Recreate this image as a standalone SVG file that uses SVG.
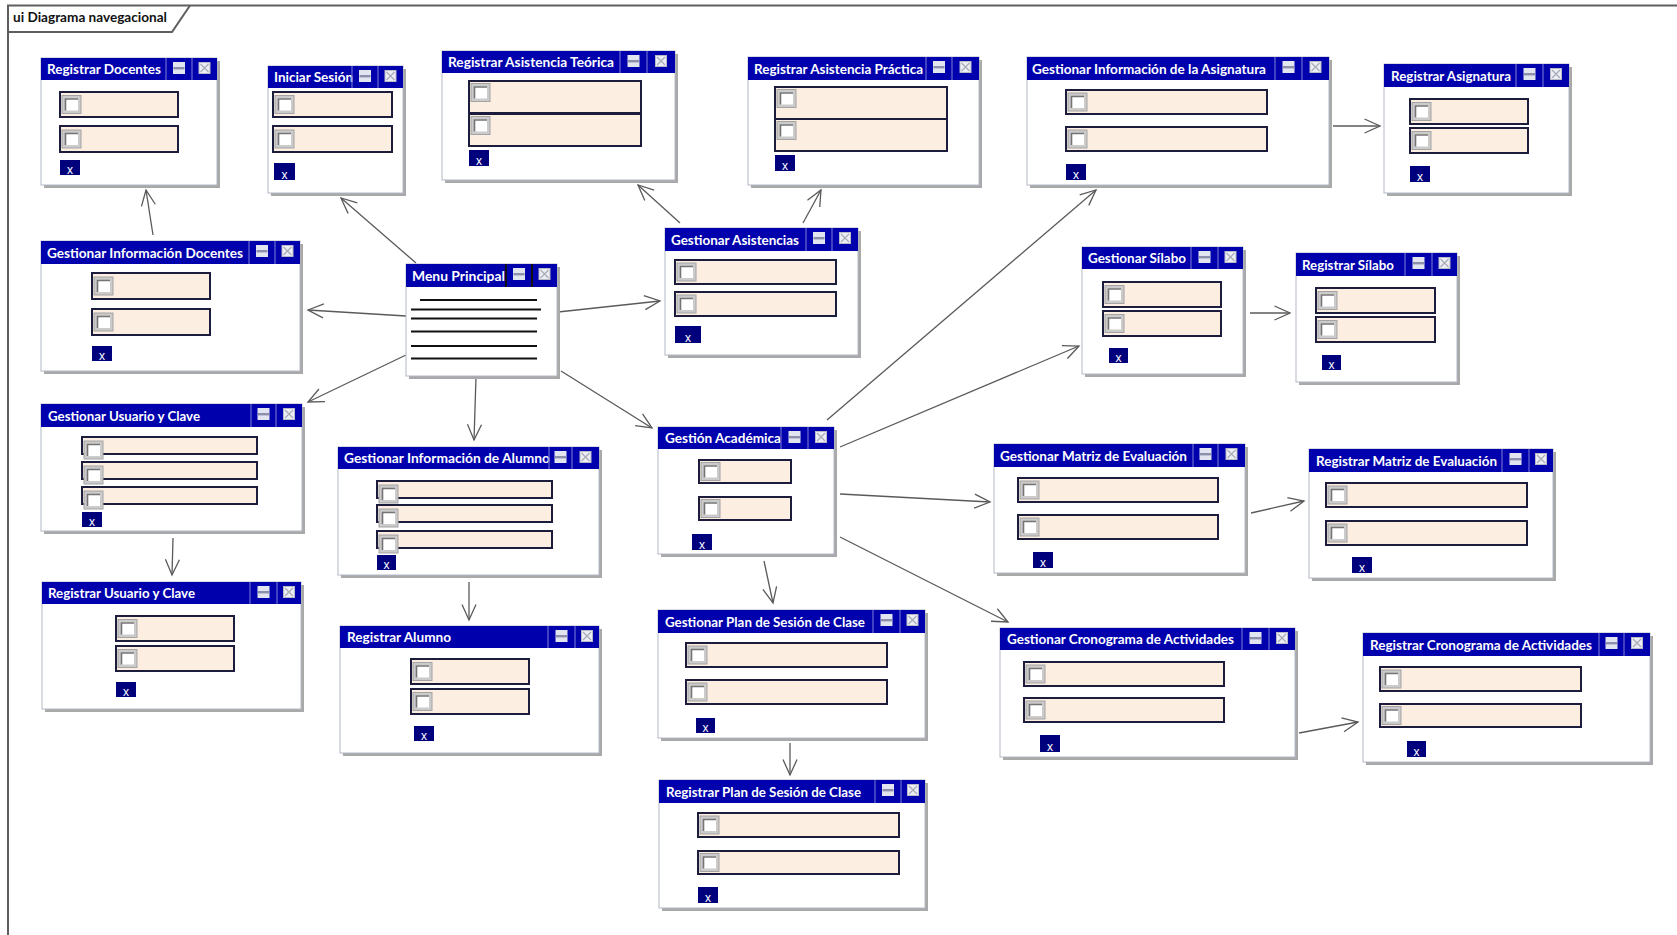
<svg xmlns="http://www.w3.org/2000/svg" xmlns:xlink="http://www.w3.org/1999/xlink" width="1677" height="935" viewBox="0 0 1677 935">
  <style>
    .shadow { fill: #a9a9a9; }
    .body { fill: #ffffff; stroke: #b4b8c8; stroke-width: 1; }
    .bar { fill: #0000ad; }
    .sep { stroke: #6b6bd0; stroke-width: 1.2; }
    .ttl { font-family: Lato, "Liberation Sans", sans-serif; font-size: 13px; font-weight: bold; fill: #ffffff; }
    .fld { fill: #fcefe2; stroke: #1c1c3c; stroke-width: 2; }
    .xb { fill: #00007c; }
    .xt { font-family: "Liberation Sans", sans-serif; font-size: 12px; fill: #ffffff; text-anchor: middle; }
    .menu line { stroke: #111111; stroke-width: 2; }
    .conn line { stroke: #5a5a5a; stroke-width: 1.3; fill: none; marker-end: url(#open); }
    .frame { stroke: #5e5e5e; stroke-width: 2; fill: none; }
    .ftxt { font-family: Lato, "Liberation Sans", sans-serif; font-size: 13px; font-weight: bold; fill: #111111; }
  </style>
  <defs>
    <marker id="open" viewBox="0 -8 17 16" refX="15.5" refY="0" markerWidth="17" markerHeight="16" markerUnits="userSpaceOnUse" orient="auto" overflow="visible">
      <path d="M0,-7 L15.5,0 L0,7" fill="none" stroke="#5a5a5a" stroke-width="1.3"/>
    </marker>
    <!-- checkbox with bevelled frame -->
    <g id="cb">
      <rect x="0" y="0" width="19" height="18" fill="#cbcbcb" stroke="#a4a4a4" stroke-width="1"/>
      <rect x="3" y="3" width="13" height="12" fill="#ffffff"/>
      <path d="M3.5,15 V3.5 H16" fill="none" stroke="#747474" stroke-width="1.6"/>
    </g>
    <!-- title bar buttons -->
    <g id="mini">
      <rect x="0" y="0" width="12" height="12" fill="#e2e4f0"/>
      <rect x="0.5" y="5" width="11" height="2.4" fill="#8c90aa"/>
    </g>
    <g id="closei">
      <rect x="0.5" y="0.5" width="11" height="11" fill="#eceef4" stroke="#b8bac8" stroke-width="1"/>
      <path d="M2,2 L10,10 M10,2 L2,10" stroke="#a8aab8" stroke-width="1.2"/>
    </g>
  </defs>

  <rect x="0" y="0" width="1677" height="935" fill="#ffffff"/>

  <!-- diagram frame -->
  <g id="frame">
    <path class="frame" d="M8,935 V5.5 H1677"/>
    <path class="frame" d="M8,32 H172 L190,5.5"/>
    <text class="ftxt" x="13" y="22" textLength="154" lengthAdjust="spacingAndGlyphs">ui Diagrama navegacional</text>
  </g>

  <!-- connectors -->
  <g id="connectors" class="conn">
    <line x1="153" y1="235" x2="146" y2="190"/>
    <line x1="416" y1="263" x2="341" y2="198"/>
    <line x1="406" y1="316" x2="308" y2="310"/>
    <line x1="406" y1="355" x2="308" y2="402"/>
    <line x1="476" y1="377" x2="474" y2="440"/>
    <line x1="558" y1="312" x2="660" y2="301"/>
    <line x1="561" y1="371" x2="652" y2="428"/>
    <line x1="680" y1="223" x2="638" y2="185"/>
    <line x1="803" y1="223" x2="821" y2="190"/>
    <line x1="173" y1="538" x2="172" y2="575"/>
    <line x1="469" y1="582" x2="469" y2="620"/>
    <line x1="827" y1="420" x2="1096" y2="190"/>
    <line x1="840" y1="447" x2="1079" y2="346"/>
    <line x1="840" y1="494" x2="990" y2="502"/>
    <line x1="840" y1="537" x2="1008" y2="622"/>
    <line x1="764" y1="561" x2="773" y2="603"/>
    <line x1="790" y1="743" x2="790" y2="775"/>
    <line x1="1333" y1="126" x2="1380" y2="126"/>
    <line x1="1250" y1="313" x2="1290" y2="313"/>
    <line x1="1251" y1="513" x2="1304" y2="501"/>
    <line x1="1299" y1="733" x2="1358" y2="722"/>
  </g>

  <!-- Registrar Docentes -->
  <g id="registrar-docentes">
    <rect class="shadow" x="44" y="61" width="176" height="127"/>
    <rect class="body" x="41" y="58" width="176" height="127"/>
    <rect class="bar" x="41" y="58" width="176" height="22"/>
    <text class="ttl" x="47" y="74" textLength="114" lengthAdjust="spacingAndGlyphs">Registrar Docentes</text>
    <line class="sep" x1="166" y1="58" x2="166" y2="80"/>
    <line class="sep" x1="192" y1="58" x2="192" y2="80"/>
    <use href="#mini" x="173" y="62"/>
    <use href="#closei" x="198.5" y="62"/>
    <rect class="fld" x="60" y="92" width="118" height="25"/>
    <use href="#cb" x="62" y="95.5"/>
    <rect class="fld" x="60" y="126" width="118" height="26"/>
    <use href="#cb" x="62" y="130"/>
    <rect class="xb" x="60" y="160" width="20" height="15"/>
    <text class="xt" x="70" y="174">x</text>
  </g>

  <!-- Iniciar Sesión -->
  <g id="iniciar-sesion">
    <rect class="shadow" x="271" y="69" width="135" height="127"/>
    <rect class="body" x="268" y="66" width="135" height="127"/>
    <rect class="bar" x="268" y="66" width="135" height="22"/>
    <text class="ttl" x="274" y="82" textLength="79" lengthAdjust="spacingAndGlyphs">Iniciar Sesión</text>
    <line class="sep" x1="352" y1="66" x2="352" y2="88"/>
    <line class="sep" x1="378" y1="66" x2="378" y2="88"/>
    <use href="#mini" x="359" y="70"/>
    <use href="#closei" x="384.5" y="70"/>
    <rect class="fld" x="273" y="92" width="119" height="25"/>
    <use href="#cb" x="275" y="95.5"/>
    <rect class="fld" x="273" y="126" width="119" height="26"/>
    <use href="#cb" x="275" y="130"/>
    <rect class="xb" x="274" y="163" width="21" height="17"/>
    <text class="xt" x="284.5" y="179">x</text>
  </g>

  <!-- Gestionar Información Docentes -->
  <g id="gestionar-informacion-docentes">
    <rect class="shadow" x="44" y="244" width="259" height="130"/>
    <rect class="body" x="41" y="241" width="259" height="130"/>
    <rect class="bar" x="41" y="241" width="259" height="23"/>
    <text class="ttl" x="47" y="257.5" textLength="196" lengthAdjust="spacingAndGlyphs">Gestionar Información Docentes</text>
    <line class="sep" x1="249" y1="241" x2="249" y2="264"/>
    <line class="sep" x1="275" y1="241" x2="275" y2="264"/>
    <use href="#mini" x="256" y="245"/>
    <use href="#closei" x="281.5" y="245"/>
    <rect class="fld" x="92" y="273" width="118" height="26"/>
    <use href="#cb" x="94" y="277"/>
    <rect class="fld" x="92" y="309" width="118" height="26"/>
    <use href="#cb" x="94" y="313"/>
    <rect class="xb" x="92" y="346" width="20" height="15"/>
    <text class="xt" x="102" y="360">x</text>
  </g>

  <!-- Menu Principal -->
  <g id="menu-principal" class="menu">
    <rect class="shadow" x="409" y="267" width="151" height="112"/>
    <rect class="body" x="406" y="264" width="151" height="112"/>
    <rect class="bar" x="406" y="264" width="151" height="23"/>
    <text class="ttl" x="412" y="280.5" textLength="93" lengthAdjust="spacingAndGlyphs">Menu Principal</text>
    <line class="sep" x1="506" y1="264" x2="506" y2="287"/>
    <line class="sep" x1="532" y1="264" x2="532" y2="287"/>
    <use href="#mini" x="513" y="268"/>
    <use href="#closei" x="538.5" y="268"/>
    <line x1="420" y1="300" x2="537" y2="300"/>
    <line x1="411" y1="309.5" x2="541" y2="309.5"/>
    <line x1="411" y1="318.5" x2="537" y2="318.5"/>
    <line x1="411" y1="331.5" x2="537" y2="331.5"/>
    <line x1="411" y1="346" x2="537" y2="346"/>
    <line x1="411" y1="358.5" x2="537" y2="358.5"/>
  </g>

  <!-- Gestionar Usuario y Clave -->
  <g id="gestionar-usuario-clave">
    <rect class="shadow" x="44" y="407" width="261" height="127"/>
    <rect class="body" x="41" y="404" width="261" height="127"/>
    <rect class="bar" x="41" y="404" width="261" height="23"/>
    <text class="ttl" x="48" y="420.5" textLength="152" lengthAdjust="spacingAndGlyphs">Gestionar Usuario y Clave</text>
    <line class="sep" x1="251" y1="404" x2="251" y2="427"/>
    <line class="sep" x1="276" y1="404" x2="276" y2="427"/>
    <use href="#mini" x="257.5" y="408"/>
    <use href="#closei" x="283" y="408"/>
    <rect class="fld" x="82" y="437" width="175" height="17"/>
    <use href="#cb" x="84" y="441"/>
    <rect class="fld" x="82" y="462" width="175" height="17"/>
    <use href="#cb" x="84" y="466"/>
    <rect class="fld" x="82" y="487" width="175" height="17"/>
    <use href="#cb" x="84" y="491"/>
    <rect class="xb" x="82" y="512" width="20" height="15"/>
    <text class="xt" x="92" y="526">x</text>
  </g>

  <!-- Gestionar Información de Alumno -->
  <g id="gestionar-informacion-alumno">
    <rect class="shadow" x="341" y="450" width="261" height="128"/>
    <rect class="body" x="338" y="447" width="261" height="128"/>
    <rect class="bar" x="338" y="447" width="261" height="22"/>
    <text class="ttl" x="344" y="463" textLength="206" lengthAdjust="spacingAndGlyphs">Gestionar Información de Alumno</text>
    <line class="sep" x1="549" y1="447" x2="549" y2="469"/>
    <line class="sep" x1="572" y1="447" x2="572" y2="469"/>
    <use href="#mini" x="554.5" y="451"/>
    <use href="#closei" x="579.5" y="451"/>
    <rect class="fld" x="377" y="481" width="175" height="17"/>
    <use href="#cb" x="379" y="485"/>
    <rect class="fld" x="377" y="505" width="175" height="17"/>
    <use href="#cb" x="379" y="509"/>
    <rect class="fld" x="377" y="531" width="175" height="17"/>
    <use href="#cb" x="379" y="535"/>
    <rect class="xb" x="377" y="555" width="19" height="15"/>
    <text class="xt" x="386.5" y="569">x</text>
  </g>

  <!-- Registrar Usuario y Clave -->
  <g id="registrar-usuario-clave">
    <rect class="shadow" x="45" y="585" width="259" height="127"/>
    <rect class="body" x="42" y="582" width="259" height="127"/>
    <rect class="bar" x="42" y="582" width="259" height="22"/>
    <text class="ttl" x="48" y="598" textLength="147" lengthAdjust="spacingAndGlyphs">Registrar Usuario y Clave</text>
    <line class="sep" x1="250" y1="582" x2="250" y2="604"/>
    <line class="sep" x1="277" y1="582" x2="277" y2="604"/>
    <use href="#mini" x="257.5" y="586"/>
    <use href="#closei" x="283" y="586"/>
    <rect class="fld" x="116" y="616" width="118" height="25"/>
    <use href="#cb" x="118" y="619.5"/>
    <rect class="fld" x="116" y="646" width="118" height="25"/>
    <use href="#cb" x="118" y="649.5"/>
    <rect class="xb" x="116" y="682" width="20" height="15"/>
    <text class="xt" x="126" y="696">x</text>
  </g>

  <!-- Registrar Alumno -->
  <g id="registrar-alumno">
    <rect class="shadow" x="343" y="629" width="259" height="127"/>
    <rect class="body" x="340" y="626" width="259" height="127"/>
    <rect class="bar" x="340" y="626" width="259" height="22"/>
    <text class="ttl" x="347" y="642" textLength="104" lengthAdjust="spacingAndGlyphs">Registrar Alumno</text>
    <line class="sep" x1="548" y1="626" x2="548" y2="648"/>
    <line class="sep" x1="575" y1="626" x2="575" y2="648"/>
    <use href="#mini" x="555.5" y="630"/>
    <use href="#closei" x="581" y="630"/>
    <rect class="fld" x="411" y="659" width="118" height="25"/>
    <use href="#cb" x="413" y="662.5"/>
    <rect class="fld" x="411" y="689" width="118" height="25"/>
    <use href="#cb" x="413" y="692.5"/>
    <rect class="xb" x="414" y="726" width="20" height="15"/>
    <text class="xt" x="424" y="740">x</text>
  </g>

  <!-- Registrar Asistencia Teórica -->
  <g id="registrar-asistencia-teorica">
    <rect class="shadow" x="445" y="54" width="233" height="129"/>
    <rect class="body" x="442" y="51" width="233" height="129"/>
    <rect class="bar" x="442" y="51" width="233" height="22"/>
    <text class="ttl" x="448" y="67" textLength="166" lengthAdjust="spacingAndGlyphs">Registrar Asistencia Teórica</text>
    <line class="sep" x1="620" y1="51" x2="620" y2="73"/>
    <line class="sep" x1="647" y1="51" x2="647" y2="73"/>
    <use href="#mini" x="627.5" y="55"/>
    <use href="#closei" x="655" y="55"/>
    <rect class="fld" x="469" y="81" width="172" height="32"/>
    <use href="#cb" x="471" y="83.5"/>
    <rect class="fld" x="469" y="114" width="172" height="32"/>
    <use href="#cb" x="471" y="116.5"/>
    <rect class="xb" x="469" y="150" width="20" height="16"/>
    <text class="xt" x="479" y="165">x</text>
  </g>

  <!-- Registrar Asistencia Práctica -->
  <g id="registrar-asistencia-practica">
    <rect class="shadow" x="751" y="60" width="231" height="128"/>
    <rect class="body" x="748" y="57" width="231" height="128"/>
    <rect class="bar" x="748" y="57" width="231" height="23"/>
    <text class="ttl" x="754" y="73.5" textLength="169" lengthAdjust="spacingAndGlyphs">Registrar Asistencia Práctica</text>
    <line class="sep" x1="926" y1="57" x2="926" y2="80"/>
    <line class="sep" x1="952" y1="57" x2="952" y2="80"/>
    <use href="#mini" x="933" y="61"/>
    <use href="#closei" x="959.5" y="61"/>
    <rect class="fld" x="775" y="87" width="172" height="32"/>
    <use href="#cb" x="777" y="89.5"/>
    <rect class="fld" x="775" y="119" width="172" height="32"/>
    <use href="#cb" x="777" y="121.5"/>
    <rect class="xb" x="775" y="155" width="20" height="16"/>
    <text class="xt" x="785" y="170">x</text>
  </g>

  <!-- Gestionar Asistencias -->
  <g id="gestionar-asistencias">
    <rect class="shadow" x="668" y="231" width="193" height="127"/>
    <rect class="body" x="665" y="228" width="193" height="127"/>
    <rect class="bar" x="665" y="228" width="193" height="23"/>
    <text class="ttl" x="671" y="244.5" textLength="128" lengthAdjust="spacingAndGlyphs">Gestionar Asistencias</text>
    <line class="sep" x1="806" y1="228" x2="806" y2="251"/>
    <line class="sep" x1="832" y1="228" x2="832" y2="251"/>
    <use href="#mini" x="813" y="232"/>
    <use href="#closei" x="839" y="232"/>
    <rect class="fld" x="675" y="260" width="161" height="24"/>
    <use href="#cb" x="677" y="263"/>
    <rect class="fld" x="675" y="292" width="161" height="24"/>
    <use href="#cb" x="677" y="295"/>
    <rect class="xb" x="675" y="326" width="26" height="17"/>
    <text class="xt" x="688" y="342">x</text>
  </g>

  <!-- Gestión Académica -->
  <g id="gestion-academica">
    <rect class="shadow" x="661" y="430" width="176" height="127"/>
    <rect class="body" x="658" y="427" width="176" height="127"/>
    <rect class="bar" x="658" y="427" width="176" height="22"/>
    <text class="ttl" x="665" y="443" textLength="116" lengthAdjust="spacingAndGlyphs">Gestión Académica</text>
    <line class="sep" x1="781" y1="427" x2="781" y2="449"/>
    <line class="sep" x1="808" y1="427" x2="808" y2="449"/>
    <use href="#mini" x="788.5" y="431"/>
    <use href="#closei" x="815" y="431"/>
    <rect class="fld" x="699" y="460" width="92" height="23"/>
    <use href="#cb" x="701" y="462.5"/>
    <rect class="fld" x="699" y="497" width="92" height="23"/>
    <use href="#cb" x="701" y="499.5"/>
    <rect class="xb" x="692" y="534" width="20" height="16"/>
    <text class="xt" x="702" y="549">x</text>
  </g>

  <!-- Gestionar Matriz de Evaluación -->
  <g id="gestionar-matriz-evaluacion">
    <rect class="shadow" x="997" y="447" width="251" height="129"/>
    <rect class="body" x="994" y="444" width="251" height="129"/>
    <rect class="bar" x="994" y="444" width="251" height="23"/>
    <text class="ttl" x="1000" y="460.5" textLength="187" lengthAdjust="spacingAndGlyphs">Gestionar Matriz de Evaluación</text>
    <line class="sep" x1="1193" y1="444" x2="1193" y2="467"/>
    <line class="sep" x1="1218" y1="444" x2="1218" y2="467"/>
    <use href="#mini" x="1199.5" y="448"/>
    <use href="#closei" x="1225.5" y="448"/>
    <rect class="fld" x="1018" y="478" width="200" height="24"/>
    <use href="#cb" x="1020" y="481"/>
    <rect class="fld" x="1018" y="515" width="200" height="24"/>
    <use href="#cb" x="1020" y="518"/>
    <rect class="xb" x="1033" y="552" width="20" height="16"/>
    <text class="xt" x="1043" y="567">x</text>
  </g>

  <!-- Gestionar Plan de Sesión de Clase -->
  <g id="gestionar-plan-sesion">
    <rect class="shadow" x="661" y="613" width="267" height="128"/>
    <rect class="body" x="658" y="610" width="267" height="128"/>
    <rect class="bar" x="658" y="610" width="267" height="23"/>
    <text class="ttl" x="665" y="626.5" textLength="200" lengthAdjust="spacingAndGlyphs">Gestionar Plan de Sesión de Clase</text>
    <line class="sep" x1="873" y1="610" x2="873" y2="633"/>
    <line class="sep" x1="900" y1="610" x2="900" y2="633"/>
    <use href="#mini" x="880.5" y="614"/>
    <use href="#closei" x="906.5" y="614"/>
    <rect class="fld" x="686" y="643" width="201" height="24"/>
    <use href="#cb" x="688" y="646"/>
    <rect class="fld" x="686" y="680" width="201" height="24"/>
    <use href="#cb" x="688" y="683"/>
    <rect class="xb" x="696" y="718" width="19" height="15"/>
    <text class="xt" x="705.5" y="732">x</text>
  </g>

  <!-- Registrar Plan de Sesión de Clase -->
  <g id="registrar-plan-sesion">
    <rect class="shadow" x="662" y="783" width="266" height="128"/>
    <rect class="body" x="659" y="780" width="266" height="128"/>
    <rect class="bar" x="659" y="780" width="266" height="23"/>
    <text class="ttl" x="666" y="796.5" textLength="195" lengthAdjust="spacingAndGlyphs">Registrar Plan de Sesión de Clase</text>
    <line class="sep" x1="875" y1="780" x2="875" y2="803"/>
    <line class="sep" x1="901" y1="780" x2="901" y2="803"/>
    <use href="#mini" x="882" y="784"/>
    <use href="#closei" x="907" y="784"/>
    <rect class="fld" x="698" y="813" width="201" height="24"/>
    <use href="#cb" x="700" y="816"/>
    <rect class="fld" x="698" y="851" width="201" height="23"/>
    <use href="#cb" x="700" y="853.5"/>
    <rect class="xb" x="698" y="887" width="20" height="16"/>
    <text class="xt" x="708" y="902">x</text>
  </g>

  <!-- Gestionar Cronograma de Actividades -->
  <g id="gestionar-cronograma">
    <rect class="shadow" x="1003" y="631" width="295" height="129"/>
    <rect class="body" x="1000" y="628" width="295" height="129"/>
    <rect class="bar" x="1000" y="628" width="295" height="22"/>
    <text class="ttl" x="1007" y="644" textLength="227" lengthAdjust="spacingAndGlyphs">Gestionar Cronograma de Actividades</text>
    <line class="sep" x1="1242" y1="628" x2="1242" y2="650"/>
    <line class="sep" x1="1269" y1="628" x2="1269" y2="650"/>
    <use href="#mini" x="1249.5" y="632"/>
    <use href="#closei" x="1276" y="632"/>
    <rect class="fld" x="1024" y="662" width="200" height="24"/>
    <use href="#cb" x="1026" y="665"/>
    <rect class="fld" x="1024" y="698" width="200" height="24"/>
    <use href="#cb" x="1026" y="701"/>
    <rect class="xb" x="1040" y="735" width="20" height="17"/>
    <text class="xt" x="1050" y="751">x</text>
  </g>

  <!-- Registrar Matriz de Evaluación -->
  <g id="registrar-matriz-evaluacion">
    <rect class="shadow" x="1312" y="452" width="244" height="129"/>
    <rect class="body" x="1309" y="449" width="244" height="129"/>
    <rect class="bar" x="1309" y="449" width="244" height="23"/>
    <text class="ttl" x="1316" y="465.5" textLength="181" lengthAdjust="spacingAndGlyphs">Registrar Matriz de Evaluación</text>
    <line class="sep" x1="1502" y1="449" x2="1502" y2="472"/>
    <line class="sep" x1="1529" y1="449" x2="1529" y2="472"/>
    <use href="#mini" x="1509.5" y="453"/>
    <use href="#closei" x="1535" y="453"/>
    <rect class="fld" x="1326" y="483" width="201" height="24"/>
    <use href="#cb" x="1328" y="486"/>
    <rect class="fld" x="1326" y="521" width="201" height="24"/>
    <use href="#cb" x="1328" y="524"/>
    <rect class="xb" x="1352" y="557" width="20" height="16"/>
    <text class="xt" x="1362" y="572">x</text>
  </g>

  <!-- Registrar Cronograma de Actividades -->
  <g id="registrar-cronograma">
    <rect class="shadow" x="1366" y="636" width="287" height="129"/>
    <rect class="body" x="1363" y="633" width="287" height="129"/>
    <rect class="bar" x="1363" y="633" width="287" height="23"/>
    <text class="ttl" x="1370" y="649.5" textLength="222" lengthAdjust="spacingAndGlyphs">Registrar Cronograma de Actividades</text>
    <line class="sep" x1="1599" y1="633" x2="1599" y2="656"/>
    <line class="sep" x1="1624" y1="633" x2="1624" y2="656"/>
    <use href="#mini" x="1605.5" y="637"/>
    <use href="#closei" x="1631" y="637"/>
    <rect class="fld" x="1380" y="667" width="201" height="24"/>
    <use href="#cb" x="1382" y="670"/>
    <rect class="fld" x="1380" y="704" width="201" height="23"/>
    <use href="#cb" x="1382" y="706.5"/>
    <rect class="xb" x="1407" y="741" width="19" height="16"/>
    <text class="xt" x="1416.5" y="756">x</text>
  </g>

  <!-- Gestionar Información de la Asignatura -->
  <g id="gestionar-informacion-asignatura">
    <rect class="shadow" x="1030" y="60" width="302" height="128"/>
    <rect class="body" x="1027" y="57" width="302" height="128"/>
    <rect class="bar" x="1027" y="57" width="302" height="23"/>
    <text class="ttl" x="1032" y="73.5" textLength="234" lengthAdjust="spacingAndGlyphs">Gestionar Información de la Asignatura</text>
    <line class="sep" x1="1275" y1="57" x2="1275" y2="80"/>
    <line class="sep" x1="1302" y1="57" x2="1302" y2="80"/>
    <use href="#mini" x="1282.5" y="61"/>
    <use href="#closei" x="1309.5" y="61"/>
    <rect class="fld" x="1066" y="90" width="201" height="24"/>
    <use href="#cb" x="1068" y="93"/>
    <rect class="fld" x="1066" y="127" width="201" height="24"/>
    <use href="#cb" x="1068" y="130"/>
    <rect class="xb" x="1066" y="164" width="20" height="16"/>
    <text class="xt" x="1076" y="179">x</text>
  </g>

  <!-- Registrar Asignatura -->
  <g id="registrar-asignatura">
    <rect class="shadow" x="1387" y="67" width="185" height="129"/>
    <rect class="body" x="1384" y="64" width="185" height="129"/>
    <rect class="bar" x="1384" y="64" width="185" height="23"/>
    <text class="ttl" x="1391" y="80.5" textLength="120" lengthAdjust="spacingAndGlyphs">Registrar Asignatura</text>
    <line class="sep" x1="1516" y1="64" x2="1516" y2="87"/>
    <line class="sep" x1="1543" y1="64" x2="1543" y2="87"/>
    <use href="#mini" x="1523.5" y="68"/>
    <use href="#closei" x="1550" y="68"/>
    <rect class="fld" x="1410" y="99" width="118" height="25"/>
    <use href="#cb" x="1412" y="102.5"/>
    <rect class="fld" x="1410" y="128" width="118" height="25"/>
    <use href="#cb" x="1412" y="131.5"/>
    <rect class="xb" x="1410" y="166" width="20" height="16"/>
    <text class="xt" x="1420" y="181">x</text>
  </g>

  <!-- Gestionar Sílabo -->
  <g id="gestionar-silabo">
    <rect class="shadow" x="1085" y="250" width="161" height="127"/>
    <rect class="body" x="1082" y="247" width="161" height="127"/>
    <rect class="bar" x="1082" y="247" width="161" height="22"/>
    <text class="ttl" x="1088" y="263" textLength="98" lengthAdjust="spacingAndGlyphs">Gestionar Sílabo</text>
    <line class="sep" x1="1191" y1="247" x2="1191" y2="269"/>
    <line class="sep" x1="1218" y1="247" x2="1218" y2="269"/>
    <use href="#mini" x="1198.5" y="251"/>
    <use href="#closei" x="1224.5" y="251"/>
    <rect class="fld" x="1103" y="282" width="118" height="25"/>
    <use href="#cb" x="1105" y="285.5"/>
    <rect class="fld" x="1103" y="311" width="118" height="25"/>
    <use href="#cb" x="1105" y="314.5"/>
    <rect class="xb" x="1109" y="348" width="19" height="15"/>
    <text class="xt" x="1118.5" y="362">x</text>
  </g>

  <!-- Registrar Sílabo -->
  <g id="registrar-silabo">
    <rect class="shadow" x="1299" y="256" width="161" height="129"/>
    <rect class="body" x="1296" y="253" width="161" height="129"/>
    <rect class="bar" x="1296" y="253" width="161" height="23"/>
    <text class="ttl" x="1302" y="269.5" textLength="92" lengthAdjust="spacingAndGlyphs">Registrar Sílabo</text>
    <line class="sep" x1="1405" y1="253" x2="1405" y2="276"/>
    <line class="sep" x1="1432" y1="253" x2="1432" y2="276"/>
    <use href="#mini" x="1412.5" y="257"/>
    <use href="#closei" x="1438.5" y="257"/>
    <rect class="fld" x="1316" y="288" width="119" height="25"/>
    <use href="#cb" x="1318" y="291.5"/>
    <rect class="fld" x="1316" y="317" width="119" height="25"/>
    <use href="#cb" x="1318" y="320.5"/>
    <rect class="xb" x="1322" y="355" width="19" height="15"/>
    <text class="xt" x="1331.5" y="369">x</text>
  </g>
</svg>
